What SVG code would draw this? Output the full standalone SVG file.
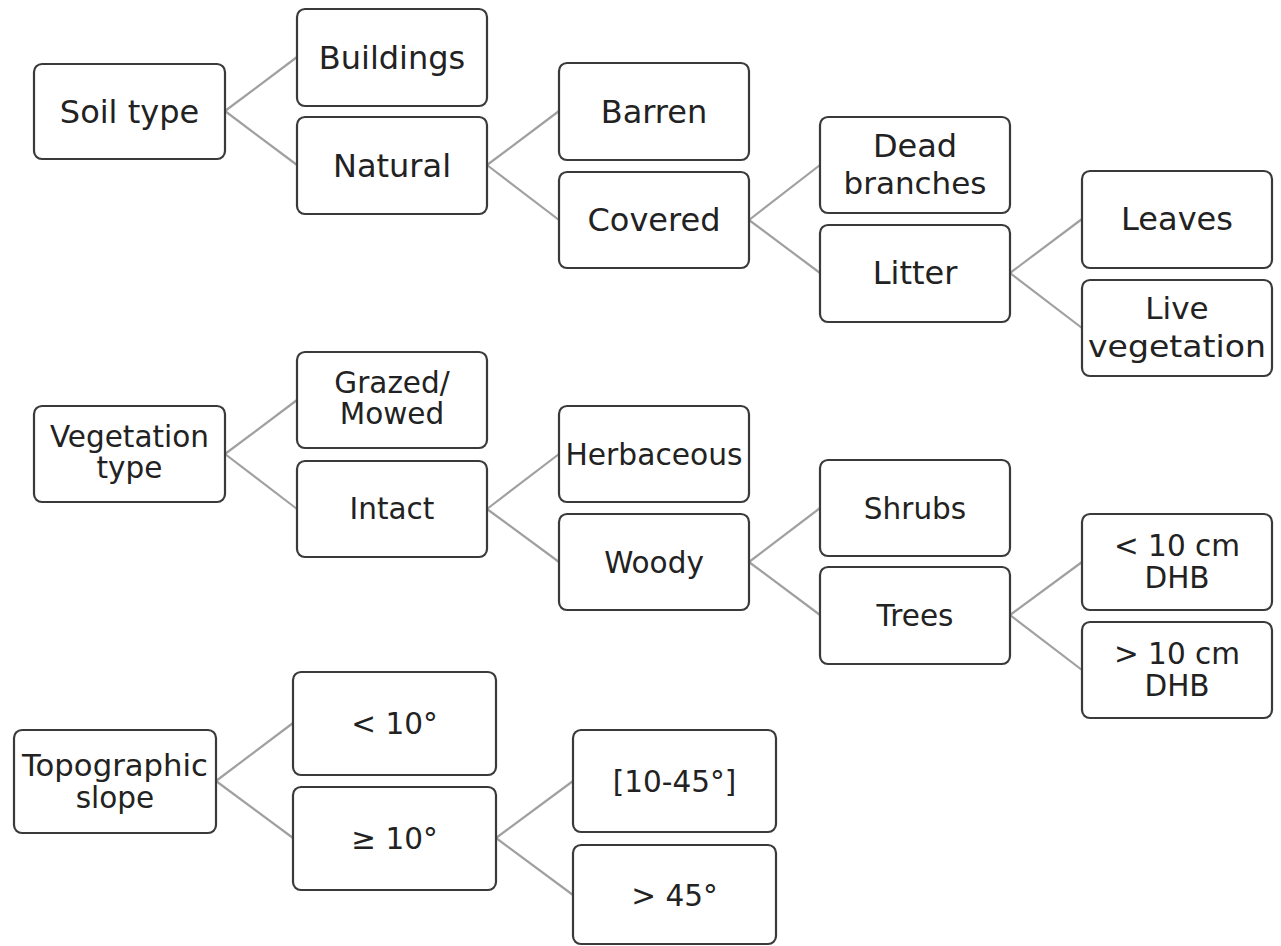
<svg xmlns="http://www.w3.org/2000/svg" width="1281" height="946" viewBox="0 0 1281 946">
<style>
.box{fill:#fff;stroke:#3a3a3a;stroke-width:2.2}
.t{font-family:"DejaVu Sans",Verdana,sans-serif;fill:#222;text-anchor:middle}
.a{font-size:32px}
.b{font-size:29.5px}
.c{font-size:29.5px}
#connectors line{stroke:#a0a0a0;stroke-width:2.2}
</style>
<rect width="1281" height="946" fill="#fff"/>
<g id="connectors">
<line x1="225" y1="111" x2="297" y2="57"/>
<line x1="225" y1="111" x2="297" y2="165"/>
<line x1="487" y1="165" x2="559" y2="111"/>
<line x1="487" y1="165" x2="559" y2="220"/>
<line x1="749" y1="220" x2="820" y2="165"/>
<line x1="749" y1="220" x2="820" y2="273"/>
<line x1="1010" y1="273" x2="1082" y2="219"/>
<line x1="1010" y1="273" x2="1082" y2="328"/>
<line x1="225" y1="454" x2="297" y2="400"/>
<line x1="225" y1="454" x2="297" y2="509"/>
<line x1="487" y1="509" x2="559" y2="454"/>
<line x1="487" y1="509" x2="559" y2="562"/>
<line x1="749" y1="562" x2="820" y2="508"/>
<line x1="749" y1="562" x2="820" y2="615"/>
<line x1="1010" y1="615" x2="1082" y2="562"/>
<line x1="1010" y1="615" x2="1082" y2="670"/>
<line x1="216" y1="781" x2="293" y2="723"/>
<line x1="216" y1="781" x2="293" y2="838"/>
<line x1="496" y1="838" x2="573" y2="781"/>
<line x1="496" y1="838" x2="573" y2="895"/>
</g>
<g id="soil-type"><rect class="box" x="34" y="64" width="191" height="95" rx="8"/><text class="t a" x="129.5" y="123">Soil type</text></g>
<g id="buildings"><rect class="box" x="297" y="9" width="190" height="97" rx="8"/><text class="t a" x="392" y="69">Buildings</text></g>
<g id="natural"><rect class="box" x="297" y="117" width="190" height="97" rx="8"/><text class="t a" x="392" y="177">Natural</text></g>
<g id="barren"><rect class="box" x="559" y="63" width="190" height="97" rx="8"/><text class="t a" x="654" y="123">Barren</text></g>
<g id="covered"><rect class="box" x="559" y="172" width="190" height="96" rx="8"/><text class="t a" x="654" y="231">Covered</text></g>
<g id="dead-branches"><rect class="box" x="820" y="117" width="190" height="96" rx="8"/><text class="t a" x="915" y="157" font-size="31">Dead</text><text class="t a" x="915" y="194" font-size="31" style="font-size:31px">branches</text></g>
<g id="litter"><rect class="box" x="820" y="225" width="190" height="97" rx="8"/><text class="t a" x="915" y="284">Litter</text></g>
<g id="leaves"><rect class="box" x="1082" y="171" width="190" height="97" rx="8"/><text class="t a" x="1177" y="230">Leaves</text></g>
<g id="live-vegetation"><rect class="box" x="1082" y="280" width="190" height="96" rx="8"/><text class="t a" x="1177" y="319" style="font-size:31px">Live</text><text class="t a" x="1177" y="357" style="font-size:31px" textLength="178" lengthAdjust="spacingAndGlyphs">vegetation</text></g>

<g id="vegetation-type"><rect class="box" x="34" y="406" width="191" height="96" rx="8"/><text class="t b" x="129.5" y="447">Vegetation</text><text class="t b" x="129.5" y="478">type</text></g>
<g id="grazed-mowed"><rect class="box" x="297" y="352" width="190" height="96" rx="8"/><text class="t b" x="392" y="393">Grazed/</text><text class="t b" x="392" y="424">Mowed</text></g>
<g id="intact"><rect class="box" x="297" y="461" width="190" height="96" rx="8"/><text class="t b" x="392" y="519">Intact</text></g>
<g id="herbaceous"><rect class="box" x="559" y="406" width="190" height="96" rx="8"/><text class="t b" x="654" y="465" textLength="177" lengthAdjust="spacingAndGlyphs">Herbaceous</text></g>
<g id="woody"><rect class="box" x="559" y="514" width="190" height="96" rx="8"/><text class="t b" x="654" y="573">Woody</text></g>
<g id="shrubs"><rect class="box" x="820" y="460" width="190" height="96" rx="8"/><text class="t b" x="915" y="519">Shrubs</text></g>
<g id="trees"><rect class="box" x="820" y="567" width="190" height="97" rx="8"/><text class="t b" x="915" y="626">Trees</text></g>
<g id="lt-10cm"><rect class="box" x="1082" y="514" width="190" height="96" rx="8"/><text class="t b" x="1177" y="556">&lt; 10 cm</text><text class="t b" x="1177" y="588">DHB</text></g>
<g id="gt-10cm"><rect class="box" x="1082" y="622" width="190" height="96" rx="8"/><text class="t b" x="1177" y="664">&gt; 10 cm</text><text class="t b" x="1177" y="696">DHB</text></g>

<g id="topographic-slope"><rect class="box" x="14" y="730" width="202" height="103" rx="8"/><text class="t c" x="115" y="776" textLength="186" lengthAdjust="spacingAndGlyphs">Topographic</text><text class="t c" x="115" y="808">slope</text></g>
<g id="lt-10deg"><rect class="box" x="293" y="672" width="203" height="103" rx="8"/><text class="t c" x="394.5" y="734">&lt; 10°</text></g>
<g id="ge-10deg"><rect class="box" x="293" y="787" width="203" height="103" rx="8"/><text class="t c" x="394.5" y="849">≥ 10°</text></g>
<g id="deg-10-45"><rect class="box" x="573" y="730" width="203" height="102" rx="8"/><text class="t c" x="674.5" y="792">[10-45°]</text></g>
<g id="gt-45deg"><rect class="box" x="573" y="845" width="203" height="99" rx="8"/><text class="t c" x="674.5" y="906">&gt; 45°</text></g>
</svg>
